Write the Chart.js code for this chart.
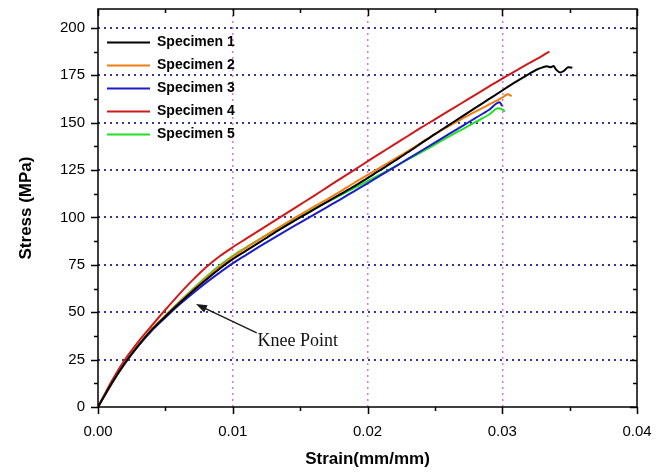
<!DOCTYPE html>
<html>
<head>
<meta charset="utf-8">
<script src="https://cdn.jsdelivr.net/npm/chart.js@4/dist/chart.umd.min.js"></script>
<style>
  html, body { margin: 0; padding: 0; background: #fff; }
</style>
</head>
<body>
<canvas id="stressChart" width="666" height="473"></canvas>
<script>
// tensile test curves, strain in mm/mm, stress in MPa
const strain1 = [0, 0.001, 0.002, 0.003, 0.004, 0.005, 0.006, 0.007, 0.008, 0.009, 0.010, 0.011, 0.012, 0.013, 0.014, 0.015, 0.016, 0.017, 0.018, 0.019, 0.020, 0.021, 0.022, 0.023, 0.024, 0.025, 0.026, 0.027, 0.028, 0.029, 0.030, 0.031, 0.032, 0.0325, 0.033, 0.0333, 0.0336, 0.0338, 0.034, 0.0343, 0.0346, 0.0349, 0.0352];
const stress1 = [0, 12.3, 23.2, 32.5, 40.8, 47.8, 54.5, 61, 67, 72.8, 78, 82.5, 87, 91.5, 95.8, 100, 104.1, 108.2, 112.3, 116.4, 120.8, 125.2, 129.8, 134.4, 139.2, 144, 148.6, 153.2, 157.8, 162.4, 167, 171.5, 175.8, 177.8, 179.2, 179.8, 179.3, 179.9, 178, 176.5, 177.5, 179.2, 179];

const strain2 = [0, 0.001, 0.002, 0.003, 0.004, 0.005, 0.006, 0.007, 0.008, 0.009, 0.010, 0.011, 0.012, 0.013, 0.014, 0.015, 0.016, 0.017, 0.018, 0.019, 0.020, 0.021, 0.022, 0.023, 0.024, 0.025, 0.026, 0.027, 0.028, 0.029, 0.030, 0.0304, 0.0307];
const stress2 = [0, 12.2, 23.2, 32.6, 41, 48.2, 55, 61.6, 67.8, 73.8, 79.3, 84, 88.5, 92.9, 97.2, 101.4, 105.6, 109.6, 113.8, 118.2, 122.4, 126.6, 130.8, 135, 139.5, 143.8, 148, 152, 155.8, 159.5, 163.2, 165, 164];

const strain3 = [0, 0.001, 0.002, 0.003, 0.004, 0.005, 0.006, 0.007, 0.008, 0.009, 0.010, 0.011, 0.012, 0.013, 0.014, 0.015, 0.016, 0.017, 0.018, 0.019, 0.020, 0.021, 0.022, 0.023, 0.024, 0.025, 0.026, 0.027, 0.028, 0.029, 0.0298, 0.030];
const stress3 = [0, 12.3, 23, 32.2, 40.3, 47.2, 53.8, 59.8, 65.5, 70.8, 75.8, 80.3, 84.7, 89, 93.2, 97.3, 101.4, 105.5, 109.6, 113.8, 118, 122.3, 126.6, 130.9, 135.2, 139.5, 143.8, 148.1, 152.4, 156.7, 160.8, 158.8];

const strain4 = [0, 0.001, 0.002, 0.003, 0.004, 0.005, 0.006, 0.007, 0.008, 0.009, 0.010, 0.011, 0.012, 0.013, 0.014, 0.015, 0.016, 0.017, 0.018, 0.019, 0.020, 0.021, 0.022, 0.023, 0.024, 0.025, 0.026, 0.027, 0.028, 0.029, 0.030, 0.031, 0.032, 0.033, 0.0335];
const stress4 = [0, 13.5, 25, 34.5, 43, 51.3, 59.3, 66.8, 73.6, 79.4, 84.3, 88.8, 93.3, 97.8, 102.3, 106.8, 111.3, 115.9, 120.5, 125, 129.6, 134.1, 138.6, 143, 147.5, 151.8, 156.1, 160.4, 164.7, 169, 173.3, 177.4, 181.4, 185.4, 187.5];

const strain5 = [0, 0.001, 0.002, 0.003, 0.004, 0.005, 0.006, 0.007, 0.008, 0.009, 0.010, 0.011, 0.012, 0.013, 0.014, 0.015, 0.016, 0.017, 0.018, 0.019, 0.020, 0.021, 0.022, 0.023, 0.024, 0.025, 0.026, 0.027, 0.028, 0.029, 0.0297, 0.030, 0.0302];
const stress5 = [0, 12.2, 23.1, 32.6, 41, 48.3, 55.2, 62, 68.5, 74.5, 79.8, 84.3, 88.6, 92.8, 96.8, 100.6, 104.4, 108.1, 111.8, 115.5, 119.2, 122.9, 126.7, 130.6, 134.5, 138.5, 142.5, 146.4, 150.3, 154.2, 157.6, 157, 156];

const specimenNames = ["Specimen 1", "Specimen 2", "Specimen 3", "Specimen 4", "Specimen 5"];
const strainTicks = [0, 0.01, 0.02, 0.03, 0.04];
const stressTicks = [0, 25, 50, 75, 100, 125, 150, 175, 200];

// knee point callout: arrow tip, arrow tail, label anchor (strain, stress)
const kneeTip = [0.00727, 54.3];
const kneeTail = [0.01178, 39.1];
const kneeLabel = [0.01183, 34.7];

const SANS = "'Liberation Sans', Arial, sans-serif";

function series(strain, stress) {
  return strain.map((x, i) => ({ x, y: stress[i] }));
}

const curves = [
  { data: series(strain1, stress1), color: "#000000" },
  { data: series(strain2, stress2), color: "#f27c12" },
  { data: series(strain3, stress3), color: "#1c1cc8" },
  { data: series(strain4, stress4), color: "#d01a1a" },
  { data: series(strain5, stress5), color: "#22e022" }
];

// box frame, minor/major ticks and the knee point callout
const frameAndNotes = {
  id: "frameAndNotes",
  afterDraw(chart) {
    const { ctx, chartArea: a, scales: { x, y } } = chart;
    ctx.save();
    ctx.strokeStyle = "#000";
    ctx.lineWidth = 1.5;
    ctx.strokeRect(a.left, a.top, a.right - a.left, a.bottom - a.top);

    ctx.beginPath();
    for (let i = 0; i < stressTicks.length * 2 - 1; i++) {
      const v = i * (stressTicks[1] - stressTicks[0]) / 2;
      const len = i % 2 === 0 ? 7 : 4;
      const py = Math.round(y.getPixelForValue(v)) + 0.5;
      ctx.moveTo(a.left - len, py);
      ctx.lineTo(a.left, py);
      ctx.moveTo(a.right, py);
      ctx.lineTo(a.right - len, py);
    }
    for (let i = 0; i < strainTicks.length * 2 - 1; i++) {
      const v = i * (strainTicks[1] - strainTicks[0]) / 2;
      const len = i % 2 === 0 ? 7 : 4;
      const px = Math.round(x.getPixelForValue(v)) + 0.5;
      ctx.moveTo(px, a.bottom);
      ctx.lineTo(px, a.bottom + len);
      ctx.moveTo(px, a.top);
      ctx.lineTo(px, a.top + len);
    }
    ctx.stroke();

    const tx = x.getPixelForValue(kneeTip[0]);
    const ty = y.getPixelForValue(kneeTip[1]);
    const sx = x.getPixelForValue(kneeTail[0]);
    const sy = y.getPixelForValue(kneeTail[1]);
    const ang = Math.atan2(ty - sy, tx - sx);
    ctx.strokeStyle = "#1a1a1a";
    ctx.fillStyle = "#1a1a1a";
    ctx.lineWidth = 1.4;
    ctx.beginPath();
    ctx.moveTo(sx, sy);
    ctx.lineTo(tx - Math.cos(ang) * 6, ty - Math.sin(ang) * 6);
    ctx.stroke();
    ctx.beginPath();
    ctx.moveTo(tx, ty);
    ctx.lineTo(tx - Math.cos(ang) * 11 + Math.sin(ang) * 4, ty - Math.sin(ang) * 11 - Math.cos(ang) * 4);
    ctx.lineTo(tx - Math.cos(ang) * 11 - Math.sin(ang) * 4, ty - Math.sin(ang) * 11 + Math.cos(ang) * 4);
    ctx.closePath();
    ctx.fill();

    ctx.fillStyle = "#111";
    ctx.font = "18px 'Liberation Serif', 'Times New Roman', serif";
    ctx.textAlign = "left";
    ctx.textBaseline = "middle";
    ctx.fillText("Knee Point", x.getPixelForValue(kneeLabel[0]), y.getPixelForValue(kneeLabel[1]));
    ctx.restore();
  }
};

new Chart(document.getElementById("stressChart"), {
  type: "line",
  data: {
    datasets: curves.map((c, i) => ({
      label: specimenNames[i],
      data: c.data,
      borderColor: c.color,
      backgroundColor: c.color,
      borderWidth: 2,
      pointRadius: 0,
      cubicInterpolationMode: "monotone",
      fill: false
    }))
  },
  options: {
    responsive: false,
    animation: false,
    events: [],
    layout: { padding: { top: 9, right: 29, bottom: 0, left: 0 } },
    scales: {
      x: {
        type: "linear",
        min: 0,
        max: 0.04,
        afterBuildTicks: s => { s.ticks = strainTicks.map(value => ({ value })); },
        // fixed band under the plot; end labels may hang over the sides
        afterFit: s => { s.height = 66; s.paddingLeft = 0; s.paddingRight = 0; },
        ticks: {
          callback: v => v.toFixed(2),
          autoSkip: false,
          maxRotation: 0,
          padding: 16,
          color: "#000",
          font: { family: SANS, size: 15 }
        },
        grid: {
          drawTicks: false,
          lineWidth: 1.5,
          color: c => (c.tick && c.tick.value > 0 && c.tick.value < 0.04) ? "#da78da" : "rgba(0,0,0,0)"
        },
        border: { display: false, dash: [2, 4] },
        title: {
          display: true,
          text: "Strain(mm/mm)",
          color: "#000",
          font: { family: SANS, size: 17, weight: "bold" },
          padding: { top: 0, bottom: 3 }
        }
      },
      y: {
        type: "linear",
        min: 0,
        max: 210,
        afterBuildTicks: s => { s.ticks = stressTicks.map(value => ({ value })); },
        afterFit: s => { s.width = 98; s.paddingTop = 0; s.paddingBottom = 0; },
        ticks: {
          autoSkip: false,
          padding: 13,
          color: "#000",
          font: { family: SANS, size: 15 }
        },
        grid: {
          drawTicks: false,
          lineWidth: 2,
          color: c => (c.tick && c.tick.value > 0) ? "#34349a" : "rgba(0,0,0,0)"
        },
        border: { display: false, dash: [2, 4] },
        title: {
          display: true,
          text: "Stress (MPa)",
          color: "#000",
          font: { family: SANS, size: 17, weight: "bold" },
          padding: { top: 16, bottom: 0 }
        }
      }
    },
    plugins: {
      legend: {
        position: "chartArea",
        align: "start",
        // blank title keeps the entries clear of the top border
        title: { display: true, text: " ", padding: { top: 11, bottom: 0 }, font: { size: 13 } },
        labels: {
          usePointStyle: true,
          pointStyle: "line",
          pointStyleWidth: 43,
          padding: 9,
          color: "#000",
          font: { family: SANS, size: 14, weight: "bold" }
        }
      },
      tooltip: { enabled: false }
    }
  },
  plugins: [frameAndNotes]
});
</script>
</body>
</html>
